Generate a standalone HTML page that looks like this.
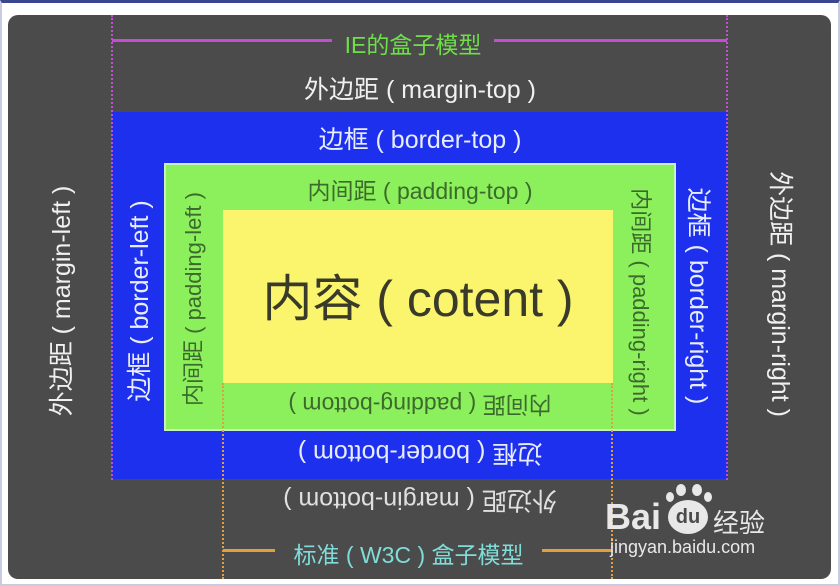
<!DOCTYPE html>
<html><head><meta charset="utf-8"><style>
body{margin:0;width:840px;height:586px;background:#fff;position:relative;overflow:hidden;font-family:"Liberation Sans","Noto Sans CJK SC",sans-serif}
div{position:absolute;box-sizing:border-box}
.t{white-space:pre;transform-origin:center center;text-align:center}
</style></head><body>
<div style="left:0;top:0;width:840px;height:586px;border:2px solid #c8cce0;border-top:3px solid #3a4690"></div>
<div style="left:8px;top:15px;width:823px;height:564px;background:#4b4b4b;border-radius:10px"></div>
<div style="left:112px;top:112px;width:616px;height:367px;background:#1c30ee"></div>
<div style="left:164px;top:163px;width:512px;height:268px;background:#8cf05c;border:2px solid #c8f0c0"></div>
<div style="left:223px;top:210px;width:390px;height:173px;background:#fbf56e"></div>
<div style="left:111px;top:15px;height:465px;border-left:2px dotted #c050d0"></div>
<div style="left:726px;top:15px;height:465px;border-left:2px dotted #c050d0"></div>
<div style="left:112px;top:39px;width:220px;height:3px;background:#c050d0"></div>
<div style="left:494px;top:39px;width:233px;height:3px;background:#c050d0"></div>
<div class="t" style="left:332px;top:26px;width:162px;font-size:23px;color:#6ede4a">IE的盒子模型</div>
<div style="left:222px;top:383px;height:196px;border-left:2px dotted #e0a040"></div>
<div style="left:611px;top:383px;height:196px;border-left:2px dotted #e0a040"></div>
<div style="left:223px;top:549px;width:52px;height:3px;background:#e0a040"></div>
<div style="left:542px;top:549px;width:70px;height:3px;background:#e0a040"></div>
<div class="t" style="left:275px;top:536px;width:267px;font-size:23px;color:#80dcd8">标准 ( W3C ) 盒子模型</div>
<div class="t" style="left:220px;top:70px;width:400px;font-size:25px;color:#f0f0f0">外边距 ( margin-top )</div>
<div class="t" style="left:220px;top:120px;width:400px;font-size:25px;color:#e8ecff">边框 ( border-top )</div>
<div class="t" style="left:220px;top:172px;width:400px;font-size:23px;color:#3c6a2c">内间距 ( padding-top )</div>
<div class="t" style="left:213px;top:259px;width:410px;font-size:50px;color:#3a3a2a">内容 ( cotent )</div>
<div class="t" style="left:220px;top:390px;width:400px;font-size:23px;color:#3c6a2c;transform:rotate(180deg)">内间距 ( padding-bottom )</div>
<div class="t" style="left:220px;top:437px;width:400px;font-size:25px;color:#e8ecff;transform:rotate(180deg)">边框 ( border-bottom )</div>
<div class="t" style="left:220px;top:484px;width:400px;font-size:25px;color:#e0e0e0;transform:rotate(180deg)">外边距 ( margin-bottom )</div>
<div class="t" style="left:-90px;top:283px;width:300px;font-size:25px;color:#f0f0f0;transform:rotate(-90deg)">外边距 ( margin-left )</div>
<div class="t" style="left:-12px;top:283px;width:300px;font-size:25px;color:#e8ecff;transform:rotate(-90deg)">边框 ( border-left )</div>
<div class="t" style="left:42px;top:283px;width:300px;font-size:22px;color:#3c6a2c;transform:rotate(-90deg)">内间距 ( padding-left )</div>
<div class="t" style="left:492px;top:286px;width:300px;font-size:22px;color:#3c6a2c;transform:rotate(90deg)">内间距 ( padding-right )</div>
<div class="t" style="left:550px;top:278px;width:300px;font-size:25px;color:#e8ecff;transform:rotate(90deg)">边框 ( border-right )</div>
<div class="t" style="left:632px;top:276px;width:300px;font-size:25px;color:#f0f0f0;transform:rotate(90deg)">外边距 ( margin-right )</div>
<div style="left:605px;top:496px;font-size:36px;font-weight:bold;color:#e8e8e8">Bai</div>
<div style="left:668px;top:500px;width:40px;height:34px;border-radius:50%;background:#e8e8e8;color:#4b4b4b;font-size:20px;font-weight:bold;text-align:center;line-height:34px">du</div>
<div style="left:676px;top:484px;width:10px;height:12px;border-radius:50%;background:#e8e8e8"></div>
<div style="left:692px;top:484px;width:10px;height:12px;border-radius:50%;background:#e8e8e8"></div>
<div style="left:666px;top:492px;width:8px;height:10px;border-radius:50%;background:#e8e8e8"></div>
<div style="left:704px;top:492px;width:8px;height:10px;border-radius:50%;background:#e8e8e8"></div>
<div style="left:713px;top:503px;font-size:26px;color:#e8e8e8">经验</div>
<div style="left:610px;top:537px;font-size:18px;color:#e8e8e8">jingyan.baidu.com</div>
</body></html>
